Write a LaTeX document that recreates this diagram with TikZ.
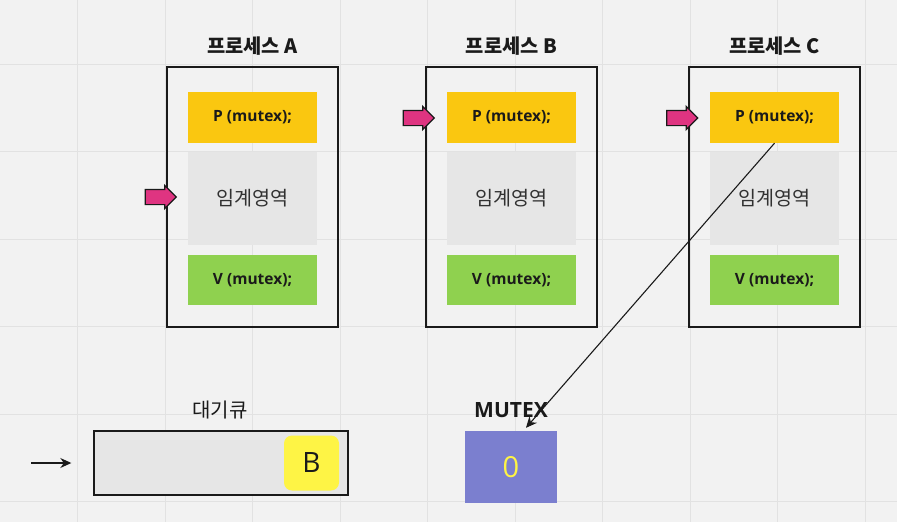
\documentclass[tikz,border=0pt]{standalone}
\usepackage{fontspec}
\setmainfont{Open Sans}
\newfontfamily\kr{Noto Sans CJK KR}
\usetikzlibrary{arrows.meta,shapes.arrows}

\definecolor{bgcol}{HTML}{F2F2F2}
\definecolor{gridcol}{HTML}{E2E2E2}
\definecolor{pcol}{HTML}{FAC710}
\definecolor{critcol}{HTML}{E6E6E6}
\definecolor{vcol}{HTML}{8FD14F}
\definecolor{pinkcol}{HTML}{DF3481}
\definecolor{notecol}{HTML}{FEF445}
\definecolor{mutexcol}{HTML}{7B7FCF}
\definecolor{inkcol}{HTML}{1A1A1A}

\tikzset{
  procbox/.style={draw=inkcol, line width=1.4pt, minimum width=171pt, minimum height=260pt},
  proctitle/.style={font=\kr\bfseries\fontsize{19.8}{21}\selectfont, text=inkcol},
  cmdbox/.style={minimum width=129pt, minimum height=51pt, inner sep=0pt,
    font=\bfseries\fontsize{15.5}{17}\selectfont, text=inkcol},
  critbox/.style={fill=critcol, minimum width=129pt, minimum height=93pt, inner sep=0pt,
    font=\kr\fontsize{19.6}{21}\selectfont, text=inkcol!90},
  pinkarrow/.style={single arrow, draw=inkcol, line width=1.2pt, fill=pinkcol,
    minimum height=31pt, minimum width=0pt, inner sep=7pt, single arrow head extend=4pt},
  connector/.style={draw=inkcol, line width=1.1pt, -{Stealth[length=11pt,width=10pt]}}
}

\begin{document}
\begin{tikzpicture}[x=1pt,y=-1pt]
  \useasboundingbox (0,0) rectangle (897,522);
  % 배경
  \fill[bgcol] (0,0) rectangle (897,522);
  \foreach \x in {77.5,165,...,870}
    \draw[gridcol, line width=1pt] (\x,0) -- (\x,522);
  \foreach \y in {64,151.5,...,510}
    \draw[gridcol, line width=1pt] (0,\y) -- (897,\y);

  % 프로세스
  \foreach \name/\cx in {A/252.5, B/511.5, C/774.5}{
    \node[procbox] (proc\name) at (\cx,197) {};
    \node[proctitle] (title\name) at (\cx,46) {프로세스 \name};
    \node[cmdbox, fill=pcol] (p\name) at (\cx,117.5) {\raisebox{-1.5pt}{P (mutex);}};
    \node[critbox] (crit\name) at (\cx,198.5) {임계영역};
    \node[cmdbox, fill=vcol, minimum height=50pt] (v\name) at (\cx,280) {\raisebox{-1.5pt}{V (mutex);}};
  }

  % 실행 위치
  \node[pinkarrow] (ptrA) at (157,197) {};
  \node[pinkarrow] (ptrB) at (415,118) {};
  \node[pinkarrow] (ptrC) at (678.5,118) {};

  % 대기큐
  \node[font=\kr\fontsize{20}{22}\selectfont, text=inkcol] (qlabel) at (220,410) {대기큐};
  \node[draw=inkcol, line width=1.4pt, fill=critcol, minimum width=254pt, minimum height=64pt]
    (queue) at (221,463) {};
  \node[fill=notecol, rounded corners=8pt, minimum width=55pt, minimum height=55pt, inner sep=0pt,
    font=\fontsize{28}{30}\selectfont, text=inkcol] (qB) at (311.5,463) {B};
  \coordinate (qin) at (31,463);
  \draw[connector] (qin) -- ([xshift=-22pt]queue.west);

  % MUTEX
  \node[font=\bfseries\fontsize{21}{23}\selectfont, text=inkcol] (mlabel) at (511,410) {MUTEX};
  \node[fill=mutexcol, minimum width=92pt, minimum height=72pt, inner sep=0pt,
    font=\fontsize{29}{31}\selectfont, text=notecol] (mutex) at (511,467) {0};
  \draw[connector] (pC.south) -- ([xshift=15pt,yshift=3pt]mutex.north);
\end{tikzpicture}
\end{document}
